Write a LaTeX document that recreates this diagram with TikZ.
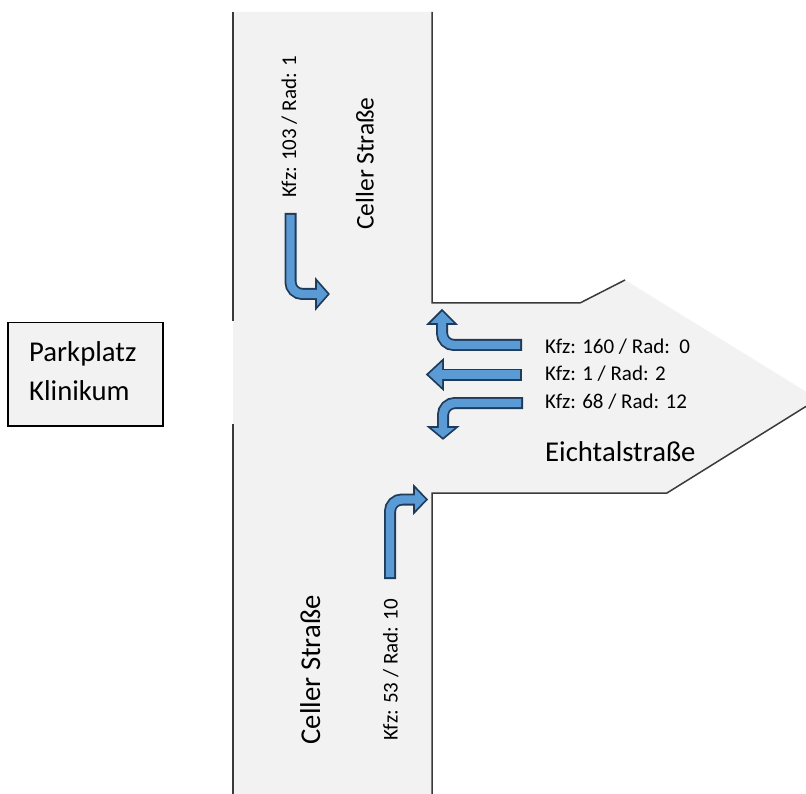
\documentclass[tikz,border=0pt]{standalone}
\usepackage{fontspec}
\setmainfont{Carlito}
\definecolor{roadgray}{HTML}{F2F2F2}
\definecolor{edgecol}{HTML}{3A3A3A}
\definecolor{arrblue}{HTML}{5B9BD5}
\definecolor{arrline}{HTML}{1F3B5A}
\newcommand\flowarrow[3]{%
  \draw[shaftdark] #1;
  \path[headdark] #3;
  \draw[shaftfill] #2;
  \fill[arrblue] #3;}
\begin{document}
\begin{tikzpicture}[x=1pt,y=-1pt,
  roadline/.style={draw=edgecol,line width=1.5pt},
  shaftdark/.style={draw=arrline,line width=12pt,rounded corners=12pt},
  shaftfill/.style={draw=arrblue,line width=8.4pt,rounded corners=12pt},
  headdark/.style={draw=arrline,fill=arrline,line width=3.6pt,line join=miter},
  small/.style={font=\fontsize{21}{25}\selectfont,inner sep=0pt},
  big/.style={font=\fontsize{28.7}{34}\selectfont,inner sep=0pt}]
\useasboundingbox (0,0) rectangle (806,794);
% road surface
\begin{scope}
\clip (0,0) rectangle (806,794);
\fill[roadgray] (233,12) -- (432,12) -- (432,303) -- (580,303) -- (625,280)
  -- (818,399) -- (667,493) -- (432,493) -- (432,794) -- (233,794) -- cycle;
\end{scope}
% road edges
\draw[roadline] (233,12) -- (233,321);
\draw[roadline] (233,424) -- (233,794);
\draw[roadline] (432,12) -- (432,303) -- (580,303) -- (625,280);
\draw[roadline] (806,406.4) -- (667,493) -- (432,493) -- (432,794);
% parking box
\node[draw=black,line width=1.5pt,fill=roadgray,minimum width=155pt,minimum height=103pt,
  inner sep=0pt,anchor=north west] (park) at (7,322) {};
\node[big,anchor=base west] (parkA) at (29,362) {Parkplatz};
\node[big,anchor=base west] (parkB) at (29,400) {Klinikum};
% street names and counts
\node[small,rotate=90,anchor=base] (lblN) at (296,127) {Kfz: 103 / Rad: 1};
\node[font=\fontsize{25.5}{30}\selectfont,inner sep=0pt,rotate=90,anchor=base] (cellerN) at (373.5,163.5) {Celler Straße};
\node[big,rotate=90,anchor=base] (cellerS) at (320,670) {Celler Straße};
\node[small,rotate=90,anchor=base] (lblS) at (397.5,670) {Kfz: 53 / Rad: 10};
\node[small,anchor=base west] (lblE1) at (545,353) {Kfz: 160 / Rad:~~0};
\node[small,anchor=base west] (lblE2) at (545,381) {Kfz: 1 / Rad: 2};
\node[small,anchor=base west] (lblE3) at (545,408) {Kfz: 68 / Rad: 12};
\node[big,anchor=base west] (eichtal) at (545,461) {Eichtalstraße};
% arrows
\flowarrow{(290.5,213) -- (290.5,294) -- (317,294)}
          {(290.5,215) -- (290.5,294) -- (317,294)}
          {(317,282) -- (327.5,294) -- (317,306) -- cycle}
\flowarrow{(522,345) -- (442,345) -- (442,323)}
          {(520,345) -- (442,345) -- (442,323)}
          {(430.5,323) -- (442,311.5) -- (453.5,323) -- cycle}
\flowarrow{(522,374.5) -- (442,374.5)}
          {(520,374.5) -- (442,374.5)}
          {(442,362) -- (428.5,374.5) -- (442,387) -- cycle}
\flowarrow{(523,403) -- (443,403) -- (443,428)}
          {(521,403) -- (443,403) -- (443,428)}
          {(431.5,428) -- (443,437.5) -- (454.5,428) -- cycle}
\flowarrow{(390,579) -- (390,499.5) -- (415,499.5)}
          {(390,577) -- (390,499.5) -- (415,499.5)}
          {(415,488.5) -- (425.5,499.5) -- (415,510.5) -- cycle}
\end{tikzpicture}
\end{document}
